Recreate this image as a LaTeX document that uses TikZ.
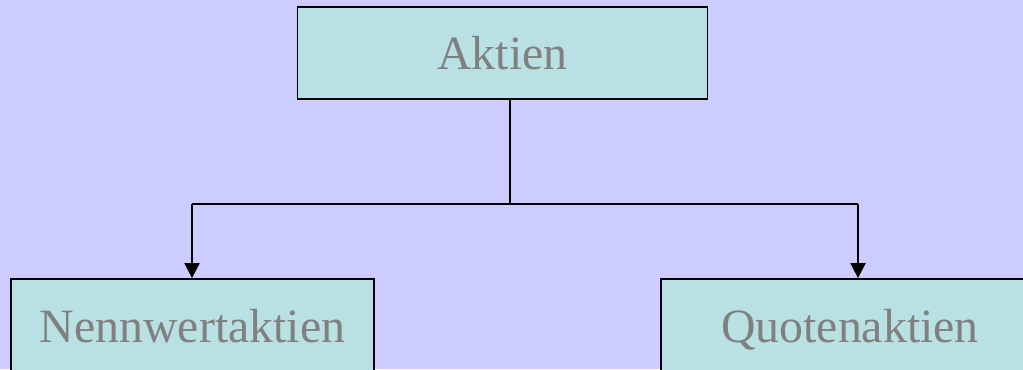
\documentclass[tikz,border=0pt]{standalone}
\usepackage{fontspec}
\setmainfont{Liberation Serif}
\usetikzlibrary{arrows.meta}
\definecolor{bg}{HTML}{CCCCFF}
\definecolor{boxfill}{HTML}{B9E0E3}
\definecolor{txt}{HTML}{808080}
\begin{document}
\begin{tikzpicture}[x=1bp,y=-1bp,
  box/.style={draw=black, line width=1.8bp, fill=boxfill, text=txt, inner sep=0pt,
    text height=33bp, text depth=0bp,
    font=\fontsize{48}{54}\selectfont},
  conn/.style={draw=black, line width=1.8bp},
  arr/.style={conn, -{Triangle[width=15bp,length=15bp]}}]
\clip (0,0) rectangle (1023,369);
\fill[bg] (0,0) rectangle (1023,369);
\node[box, minimum width=410bp, minimum height=92bp] (top) at (502.5,53) {Aktien};
\node[box, minimum width=363bp, minimum height=93bp] (left) at (192.5,325.5) {Nennwertaktien};
\node[box, minimum width=378bp, minimum height=93bp] (right) at (850,325.5) {Quotenaktien};
\coordinate (j) at (510,204);
\coordinate (jl) at (192,204);
\coordinate (jr) at (858,204);
\draw[conn] (top.south -| j) -- (j);
\draw[conn] (jl) -- (jr);
\draw[arr] (jl) -- (jl |- left.north);
\draw[arr] (jr) -- (jr |- right.north);
\end{tikzpicture}
\end{document}
